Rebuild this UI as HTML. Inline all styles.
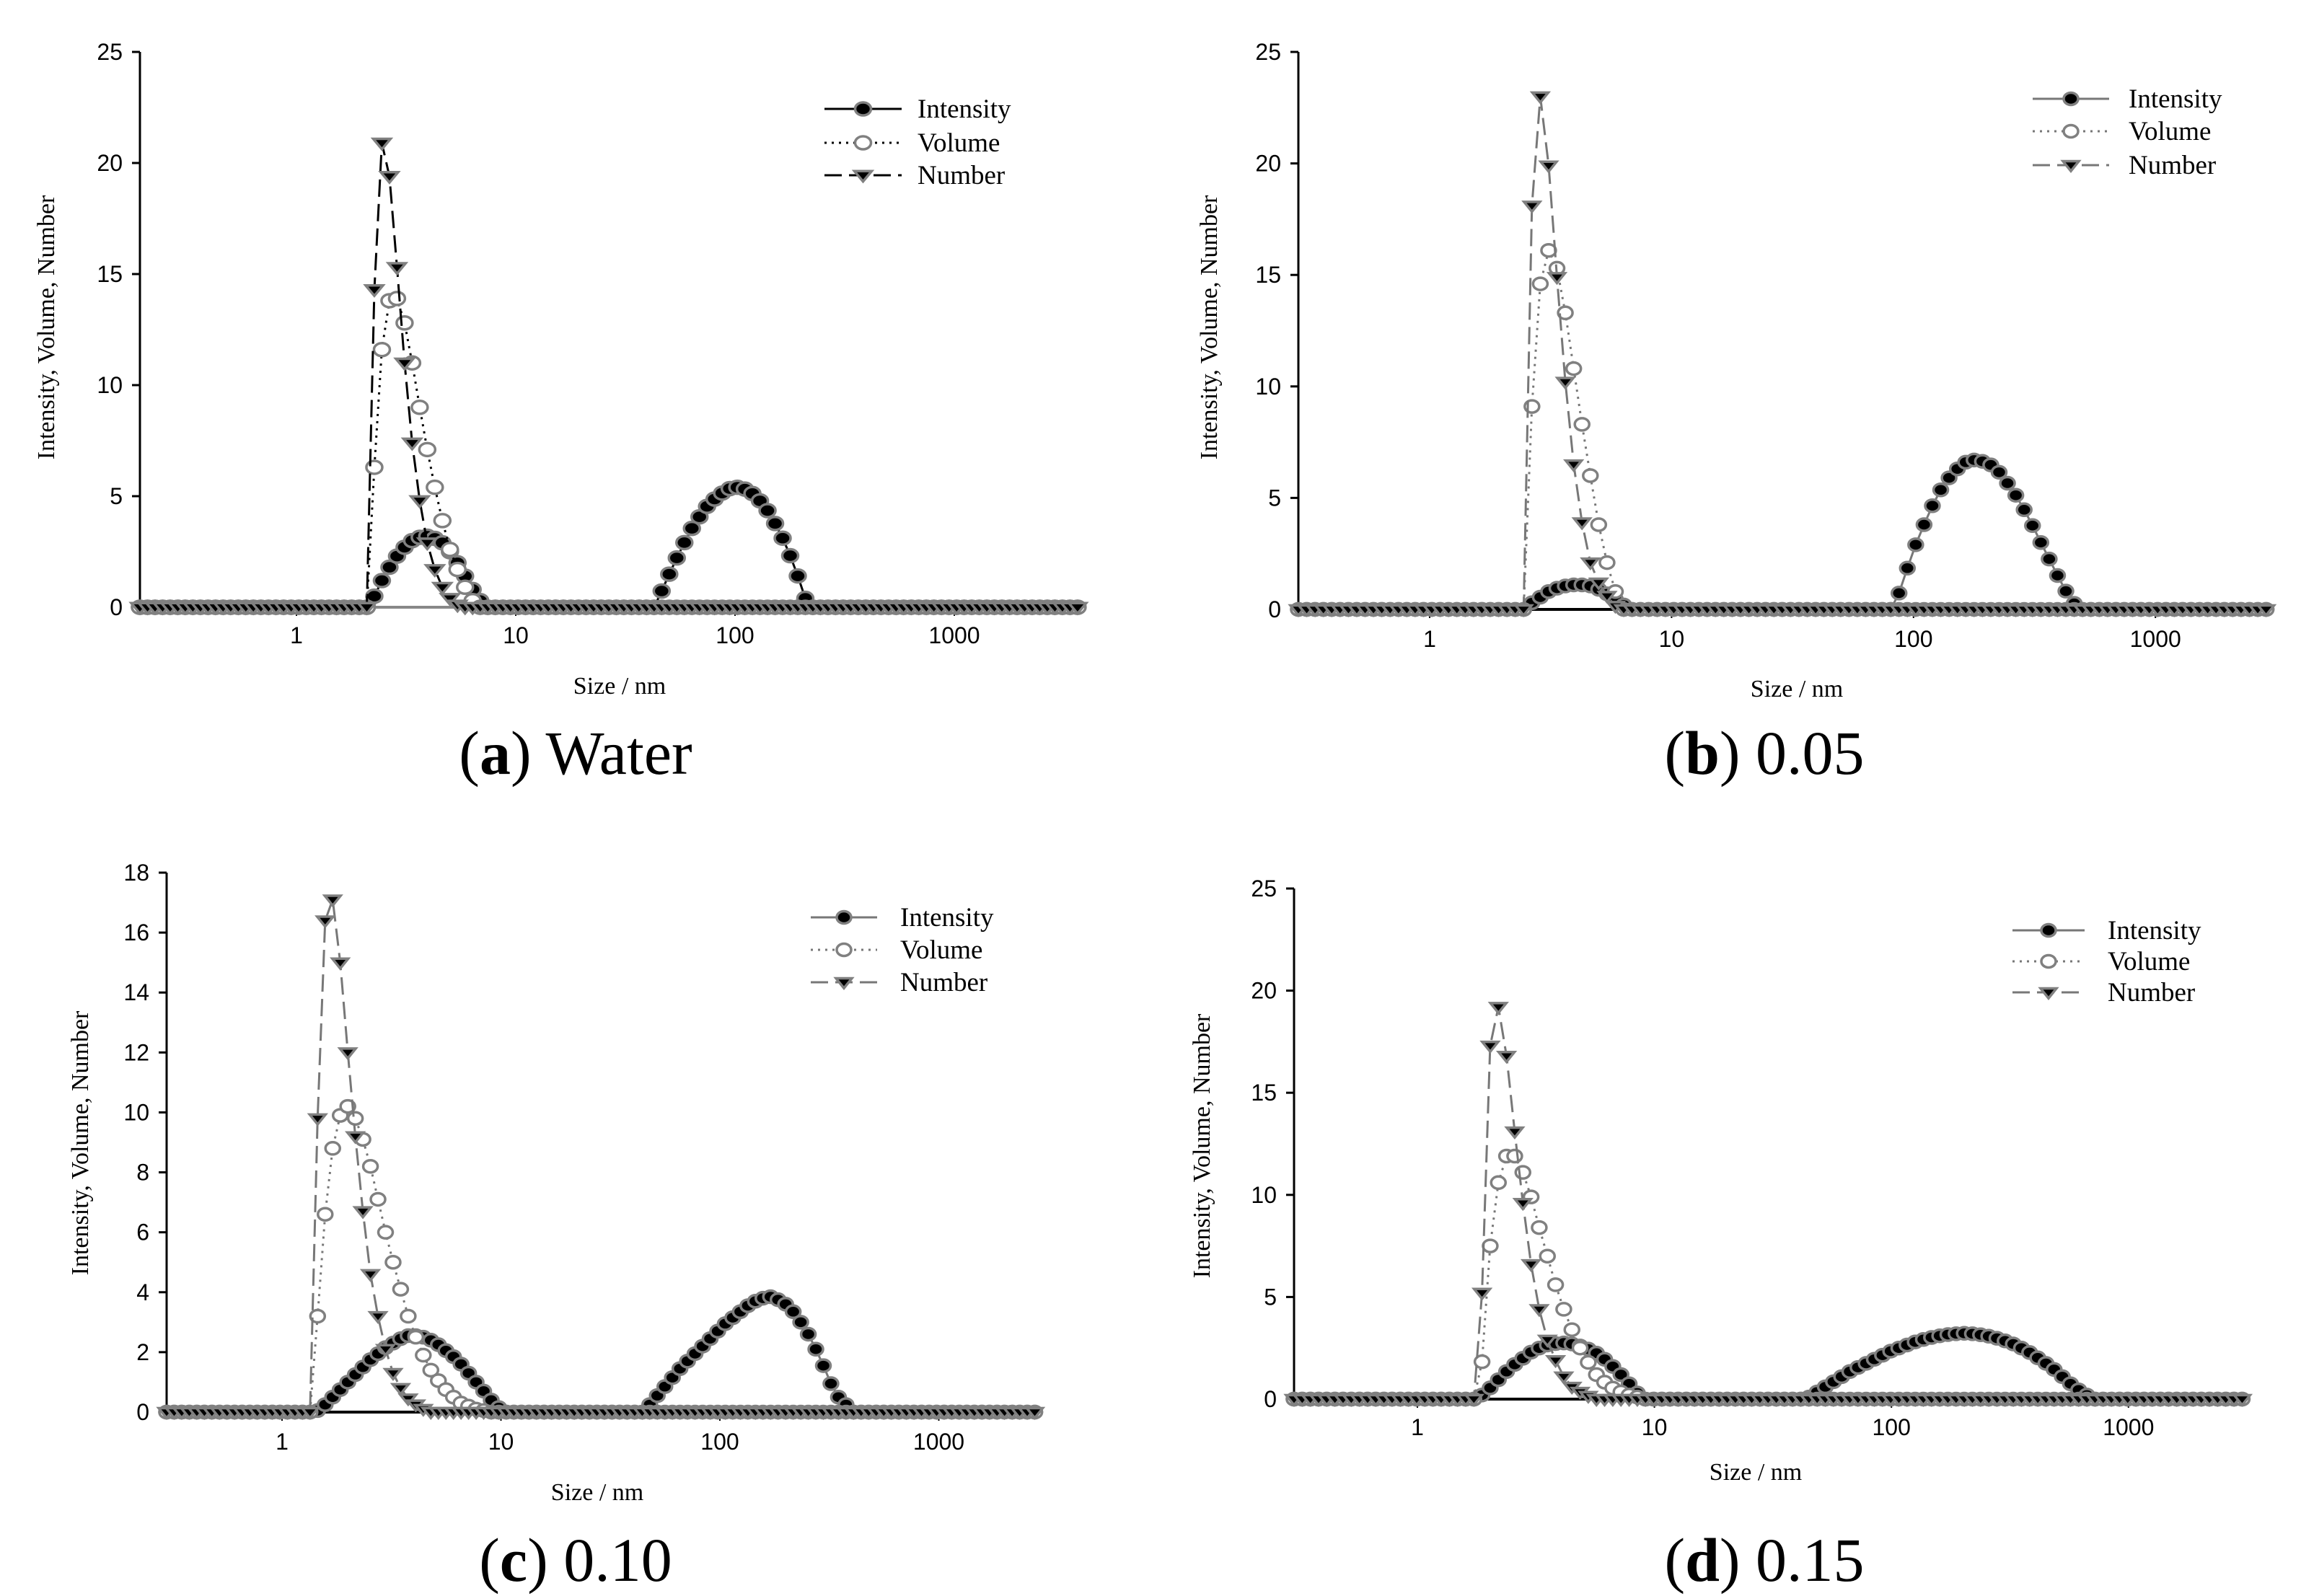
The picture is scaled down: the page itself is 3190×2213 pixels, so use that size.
<!DOCTYPE html>
<html><head><meta charset="utf-8"><style>
html,body{margin:0;padding:0;background:#fff;}
svg{display:block;}
.tick{font-family:"Liberation Sans",sans-serif;font-size:32px;fill:#000;}
.leg{font-family:"Liberation Serif",serif;font-size:37px;fill:#000;}
.ttl{font-family:"Liberation Serif",serif;font-size:34px;fill:#000;}
.cap{font-family:"Liberation Serif",serif;font-size:86px;fill:#000;}
</style></head><body>
<svg id="fig" width="3190" height="2213" viewBox="0 0 3190 2213" xmlns="http://www.w3.org/2000/svg">
<g id="panel-a"></g>
<g id="panel-b"></g>
<g id="panel-c"></g>
<g id="panel-d"></g>

<text class="cap" x="798" y="1073" text-anchor="middle">(<tspan font-weight="bold">a</tspan>) Water</text>
<text class="cap" x="2446" y="1073" text-anchor="middle">(<tspan font-weight="bold">b</tspan>) 0.05</text>
<text class="cap" x="798" y="2192" text-anchor="middle">(<tspan font-weight="bold">c</tspan>) 0.10</text>
<text class="cap" x="2446" y="2192" text-anchor="middle">(<tspan font-weight="bold">d</tspan>) 0.15</text>

<text class="ttl" x="859" y="962" text-anchor="middle">Size / nm</text>
<text class="ttl" x="2491" y="966" text-anchor="middle">Size / nm</text>
<text class="ttl" x="828" y="2080" text-anchor="middle">Size / nm</text>
<text class="ttl" x="2434" y="2052" text-anchor="middle">Size / nm</text>

<text class="ttl" transform="translate(75,454) rotate(-90)" text-anchor="middle">Intensity, Volume, Number</text>
<text class="ttl" transform="translate(1687,454) rotate(-90)" text-anchor="middle">Intensity, Volume, Number</text>
<text class="ttl" transform="translate(122,1585) rotate(-90)" text-anchor="middle">Intensity, Volume, Number</text>
<text class="ttl" transform="translate(1677,1589) rotate(-90)" text-anchor="middle">Intensity, Volume, Number</text>
</svg>
<script>
// ---- data ----
const xTickVals = [1, 10, 100, 1000];
const xTickLabels = ["1", "10", "100", "1000"];
const seriesNames = ["Intensity", "Volume", "Number"];

const yTicksA = [0, 5, 10, 15, 20, 25];
const yTicksB = [0, 5, 10, 15, 20, 25];
const yTicksC = [0, 2, 4, 6, 8, 10, 12, 14, 16, 18];
const yTicksD = [0, 5, 10, 15, 20, 25];

// panel a (water)
const aInt1Start = 2.32;
const aInt1 = [0.5,1.2,1.8,2.3,2.7,3.0,3.15,3.2,3.1,2.9,2.5,2.0,1.4,0.8,0.3];
const aInt2Start = 45.8;
const aInt2 = [0.73,1.49,2.22,2.91,3.55,4.07,4.54,4.87,5.14,5.34,5.4,5.32,5.12,4.79,4.35,3.77,3.11,2.32,1.41,0.4];
const aVolStart = 2.32;
const aVol = [6.3,11.6,13.8,13.9,12.8,11.0,9.0,7.1,5.4,3.9,2.6,1.7,0.9,0.3];
const aNumStart = 2.32;
const aNum = [14.3,20.9,19.4,15.3,11.0,7.4,4.8,2.9,1.7,0.9,0.4,0.1];

// panel b (0.05)
const bInt1Start = 2.55;
const bInt1 = [0.3,0.55,0.8,0.95,1.05,1.1,1.1,1.05,0.9,0.7,0.45,0.2];
const bInt2Start = 90.3;
const bInt2 = [0.73,1.85,2.9,3.8,4.65,5.36,5.9,6.3,6.6,6.7,6.64,6.48,6.15,5.66,5.12,4.47,3.76,3.0,2.26,1.52,0.82,0.27];
const bVolStart = 2.55;
const bVol = [9.1,14.6,16.1,15.3,13.3,10.8,8.3,6.0,3.8,2.1,0.8];
const bNumStart = 2.55;
const bNum = [18.1,23.0,19.9,14.9,10.2,6.5,3.9,2.1,1.2,0.6,0.15];

// panel c (0.10)
const cInt1Start = 1.44;
const cInt1 = [0.05,0.25,0.5,0.75,1.0,1.25,1.5,1.75,1.95,2.15,2.3,2.45,2.55,2.55,2.5,2.4,2.25,2.05,1.85,1.6,1.3,1.0,0.7,0.4,0.15];
const cInt2Start = 49.4;
const cInt2 = [0.25,0.55,0.85,1.15,1.45,1.7,1.95,2.2,2.45,2.7,2.95,3.15,3.35,3.55,3.7,3.8,3.85,3.75,3.6,3.35,3.0,2.6,2.1,1.55,0.95,0.5,0.25];
const cVolStart = 1.44;
const cVol = [3.2,6.6,8.8,9.9,10.2,9.8,9.1,8.2,7.1,6.0,5.0,4.1,3.2,2.5,1.9,1.4,1.05,0.75,0.5,0.3,0.2,0.1,0.05];
const cNumStart = 1.44;
const cNum = [9.8,16.4,17.1,15.0,12.0,9.2,6.7,4.6,3.2,2.1,1.3,0.8,0.45,0.25,0.1];

// panel d (0.15)
const dInt1Start = 1.87;
const dInt1 = [0.2,0.55,0.95,1.35,1.7,2.0,2.3,2.5,2.65,2.72,2.75,2.7,2.6,2.45,2.25,1.95,1.6,1.2,0.75,0.3];
const dInt2Start = 45.5;
const dInt2 = [0.1,0.35,0.6,0.85,1.1,1.35,1.55,1.75,1.95,2.15,2.35,2.5,2.65,2.8,2.92,3.02,3.1,3.16,3.2,3.22,3.2,3.15,3.08,2.98,2.85,2.7,2.5,2.28,2.02,1.75,1.45,1.1,0.75,0.45,0.2];
const dVolStart = 1.87;
const dVol = [1.83,7.5,10.6,11.9,11.9,11.1,9.9,8.4,7.0,5.6,4.4,3.4,2.5,1.8,1.2,0.83,0.54,0.35,0.2,0.1];
const dNumStart = 1.87;
const dNum = [5.2,17.3,19.2,16.8,13.1,9.6,6.6,4.4,2.9,1.9,1.1,0.6,0.35,0.15];

// ---- rendering ----
const NS = "http://www.w3.org/2000/svg";
function mk(tag, attrs, parent){
  const el = document.createElementNS(NS, tag);
  for (const k in attrs) el.setAttribute(k, attrs[k]);
  parent.appendChild(el);
  return el;
}

function buildSeries(n, logStart, per, peaks){
  const v = new Array(n).fill(0);
  peaks.forEach(function(p){
    const i0 = Math.round((Math.log10(p[0]) - logStart) * per);
    p[1].forEach(function(val, k){ if (i0 + k >= 0 && i0 + k < n) v[i0 + k] = val; });
  });
  return v;
}

function drawPanel(cfg){
  const g = document.getElementById(cfg.id);
  const logStart = (cfg.axisX - cfg.x1) / cfg.dec;
  const n = Math.floor((cfg.endX - cfg.axisX) / cfg.dec * cfg.per) + 1;
  const xOfLog = function(l){ return cfg.x1 + l * cfg.dec; };
  const xs = function(i){ return xOfLog(logStart + i / cfg.per); };
  const ys = function(v){ return cfg.y0 - v / cfg.yMax * (cfg.y0 - cfg.yTop); };

  const ax = mk("line", {x1: cfg.axisX, y1: cfg.yTop, x2: cfg.axisX, y2: cfg.y0, stroke: "#000", "stroke-width": 3}, g);
  
  
  const bx = mk("line", {x1: cfg.axisX, y1: cfg.y0, x2: cfg.endX, y2: cfg.y0, stroke: cfg.baseColor, "stroke-width": 4}, g);
  
  

  cfg.yTicks.forEach(function(t){
    const y = ys(t);
    const tl = mk("line", {x1: cfg.axisX - 11, y1: y, x2: cfg.axisX, y2: y, stroke: "#000", "stroke-width": 3}, g);
    
    
    const tx = mk("text", {x: cfg.axisX - 24, y: y + 11, "text-anchor": "end", "class": "tick"}, g);
    tx.textContent = String(t);
    
    
  });
  xTickVals.forEach(function(t, k){
    const x = xOfLog(Math.log10(t));
    const tl = mk("line", {x1: x, y1: cfg.y0, x2: x, y2: cfg.y0 + 12, stroke: "#000", "stroke-width": 2}, g);
    
    
    const tx = mk("text", {x: x, y: cfg.y0 + cfg.xLabDy, "text-anchor": "middle", "class": "tick"}, g);
    tx.textContent = xTickLabels[k];
    
    
  });

  const styles = [
    {dash: "none", fill: "#000", shape: "circle"},
    {dash: "3 7", fill: "#fff", shape: "circle"},
    {dash: "24 10", fill: "#000", shape: "tri"}
  ];
  const data = [
    buildSeries(n, logStart, cfg.per, cfg.intensity),
    buildSeries(n, logStart, cfg.per, cfg.volume),
    buildSeries(n, logStart, cfg.per, cfg.number)
  ];
  data.forEach(function(vals, s){
    const sg = mk("g", {}, g);
    
    
    let pts = [];
    for (let i = 0; i < n; i++) pts.push(xs(i).toFixed(1) + "," + ys(vals[i]).toFixed(1));
    const pl = mk("polyline", {points: pts.join(" "), fill: "none", stroke: cfg.lineColor, "stroke-width": 3, "stroke-dasharray": styles[s].dash}, sg);
    
    
    for (let i = 0; i < n; i++){
      const x = xs(i), y = ys(vals[i]);
      let m;
      if (styles[s].shape === "circle"){
        m = mk("ellipse", {cx: x, cy: y, rx: cfg.rx, ry: cfg.ry, fill: styles[s].fill, stroke: "#808080", "stroke-width": 3.5}, sg);
      } else {
        const w = cfg.rx + 1, h = cfg.ry * 1.6;
        m = mk("polygon", {points: (x - w) + "," + (y - h * 0.4) + " " + (x + w) + "," + (y - h * 0.4) + " " + x + "," + (y + h * 0.6), fill: "#000", stroke: "#808080", "stroke-width": 3.5}, sg);
      }
      
      
    }
  });

  const lg = mk("g", {}, g);
  
  
  seriesNames.forEach(function(name, s){
    const y = cfg.legY[s];
    const ln = mk("line", {x1: cfg.legX1, y1: y, x2: cfg.legX2, y2: y, stroke: cfg.lineColor, "stroke-width": 3, "stroke-dasharray": styles[s].dash}, lg);
    
    
    const cx = (cfg.legX1 + cfg.legX2) / 2;
    let m;
    if (styles[s].shape === "circle"){
      m = mk("ellipse", {cx: cx, cy: y, rx: cfg.rx, ry: cfg.ry, fill: styles[s].fill, stroke: "#808080", "stroke-width": 3.5}, lg);
    } else {
      const w = cfg.rx + 1, h = cfg.ry * 1.6;
      m = mk("polygon", {points: (cx - w) + "," + (y - h * 0.4) + " " + (cx + w) + "," + (y - h * 0.4) + " " + cx + "," + (y + h * 0.6), fill: "#000", stroke: "#808080", "stroke-width": 3.5}, lg);
    }
    
    
    const tx = mk("text", {x: cfg.legTx, y: y + 12, "class": "leg"}, lg);
    tx.textContent = name;
    
    
  });
}

drawPanel({id: "panel-a", axisX: 194, x1: 411, dec: 304, endX: 1495, yTop: 72, y0: 842, yMax: 25, yTicks: yTicksA, per: 29,
  rx: 11, ry: 9, lineColor: "#000", baseColor: "#888", xLabDy: 50,
  legX1: 1143, legX2: 1250, legTx: 1272, legY: [151, 198, 243],
  intensity: [[aInt1Start, aInt1], [aInt2Start, aInt2]], volume: [[aVolStart, aVol]], number: [[aNumStart, aNum]]});
drawPanel({id: "panel-b", axisX: 1800, x1: 1982, dec: 335.4, endX: 3151, yTop: 72, y0: 845, yMax: 25, yTicks: yTicksB, per: 29,
  rx: 10, ry: 8.5, lineColor: "#777", baseColor: "#000", xLabDy: 52,
  legX1: 2818, legX2: 2924, legTx: 2951, legY: [137, 182, 229],
  intensity: [[bInt1Start, bInt1], [bInt2Start, bInt2]], volume: [[bVolStart, bVol]], number: [[bNumStart, bNum]]});
drawPanel({id: "panel-c", axisX: 231, x1: 391, dec: 303.5, endX: 1440, yTop: 1210, y0: 1958, yMax: 18, yTicks: yTicksC, per: 29,
  rx: 10, ry: 8.5, lineColor: "#777", baseColor: "#000", xLabDy: 52,
  legX1: 1124, legX2: 1216, legTx: 1248, legY: [1272, 1317, 1362],
  intensity: [[cInt1Start, cInt1], [cInt2Start, cInt2]], volume: [[cVolStart, cVol]], number: [[cNumStart, cNum]]});
drawPanel({id: "panel-d", axisX: 1794, x1: 1965, dec: 328.6, endX: 3110, yTop: 1232, y0: 1940, yMax: 25, yTicks: yTicksD, per: 29,
  rx: 10, ry: 8.5, lineColor: "#777", baseColor: "#000", xLabDy: 50,
  legX1: 2790, legX2: 2890, legTx: 2922, legY: [1290, 1333, 1376],
  intensity: [[dInt1Start, dInt1], [dInt2Start, dInt2]], volume: [[dVolStart, dVol]], number: [[dNumStart, dNum]]});
</script>
</body></html>
